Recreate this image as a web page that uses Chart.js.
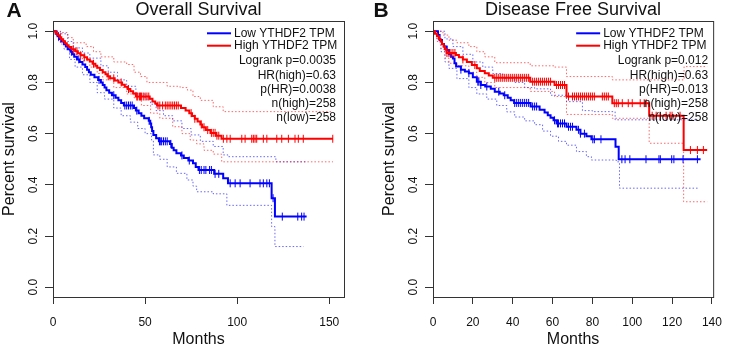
<!DOCTYPE html>
<html>
<head>
<meta charset="utf-8">
<script src="https://cdn.jsdelivr.net/npm/chart.js@4.4.0/dist/chart.umd.min.js"></script>
<style>
html, body { margin: 0; padding: 0; background: #fff; }
#wrap { position: relative; width: 733px; height: 348px; }
#panelA { position: absolute; left: 0; top: 0; }
#panelB { position: absolute; left: 366px; top: 0; }
</style>
</head>
<body>
<div id="wrap">
  <canvas id="panelA" width="366" height="348"></canvas>
  <canvas id="panelB" width="367" height="348"></canvas>
</div>
<script>
Chart.defaults.font.family = "'Liberation Sans', Arial, sans-serif";
Chart.defaults.color = '#111';

// Panel A - Overall Survival (months, survival after each step)
const osHighT = [0, 1.5, 2.5, 3.5, 4.5, 5.5, 6.5, 7.5, 8.5, 10, 12, 13.5, 15, 17, 18.5, 20, 21.5, 23, 24, 25.5, 27, 28.5, 29.5, 31, 33.5, 35.5, 37.5, 39, 40.5, 42, 43.5, 45, 52.5, 54, 55.5, 56.5, 69.5, 72, 74, 75.5, 77, 78.5, 80, 81, 83, 85.5, 88.5, 91.5, 152];
const osHighS = [1, .992, .984, .977, .969, .961, .953, .945, .938, .93, .922, .914, .906, .898, .89, .882, .873, .865, .857, .849, .84, .832, .824, .816, .808, .80, .791, .783, .774, .766, .757, .745, .736, .726, .718, .71, .70, .69, .68, .669, .658, .647, .636, .625, .614, .603, .592, .58, .58];
const osHighCens = [4, 11, 13, 15, 17, 22, 30, 33, 37, 41, 45.5, 46, 47, 47.5, 48, 49, 50, 51, 52, 57, 58, 59.5, 61, 62, 63, 64, 65, 66, 67, 68, 75, 77, 80.5, 82, 84, 86, 87, 88, 89, 90, 92.5, 94.4, 96.2, 102.5, 104.3, 107.9, 108.8, 109.7, 110.6, 114.2, 116.1, 121.5, 124.2, 127.8, 131.4, 133.2, 135.9, 151.9];
const osHighUpT = [0, 4, 8, 11, 18, 22, 26, 33, 40, 44, 47.5, 51, 62, 69, 73, 76, 80, 87, 92.4, 152];
const osHighUpS = [1, .995, .975, .955, .94, .92, .90, .88, .87, .84, .823, .80, .785, .78, .77, .745, .73, .705, .686, .686];
const osHighLoT = [0, 2, 4, 8, 11, 16, 20, 24, 27, 33, 40, 44, 48, 53, 58, 65, 70, 74.5, 78, 82, 87, 91.6, 152];
const osHighLoS = [1, .98, .95, .93, .91, .885, .86, .835, .81, .78, .755, .74, .71, .68, .66, .627, .60, .575, .56, .535, .52, .49, .49];

const osLowT = [0, 1.5, 2.5, 3.5, 4.5, 6, 7, 8, 9.5, 10.5, 11.5, 13, 14.5, 16, 17.5, 18.5, 19.5, 20.5, 22.5, 24.5, 26, 27, 28, 29, 30.5, 32, 34, 35.5, 37, 38.5, 44, 45, 46.5, 48, 49.5, 52, 52.8, 53.3, 53.8, 54.5, 56, 57.5, 63.5, 64.5, 65.5, 67, 69.5, 71, 73.5, 76, 77.5, 79, 87.5, 92.4, 95, 118.7, 120.5, 137.7];
const osLowS = [1, .99, .98, .97, .96, .95, .94, .93, .92, .91, .90, .89, .88, .87, .86, .85, .84, .83, .82, .81, .80, .79, .78, .77, .76, .75, .74, .73, .72, .71, .70, .69, .68, .67, .66, .65, .64, .625, .61, .595, .582, .57, .56, .545, .535, .523, .515, .505, .495, .484, .47, .458, .443, .426, .406, .348, .276, .276];
const osLowCens = [3, 10, 14, 25, 33, 39, 40, 41, 42, 43, 45.5, 52.2, 57.8, 58.5, 59, 60, 61, 62, 64, 70, 74, 79.5, 80.5, 82, 83, 85, 86, 88, 90, 96.2, 98.9, 101.6, 107, 112.4, 114.2, 116.1, 117.5, 119.5, 124.5, 132.9, 135, 136.3];
const osLowUpT = [0, 4, 8, 11, 16, 20, 26, 30, 35, 40, 45, 50, 53, 56, 60, 65, 70, 75, 80, 87, 92.4, 95, 120.5, 121, 137];
const osLowUpS = [1, .99, .96, .935, .915, .895, .865, .84, .81, .785, .755, .735, .715, .69, .67, .65, .62, .595, .57, .55, .517, .51, .51, .49, .49];
const osLowLoT = [0, 3, 6, 9, 12, 16, 20, 24, 28, 33, 37, 42, 46, 50, 53.5, 54.5, 58, 62, 67, 72.7, 76, 78, 87, 94.4, 118.7, 120.5, 136];
const osLowLoS = [1, .96, .93, .89, .86, .83, .80, .76, .735, .70, .67, .645, .62, .60, .575, .517, .50, .47, .445, .419, .395, .373, .365, .32, .237, .159, .159];

// Panel B - Disease Free Survival
const dfsHighT = [0, 1, 2, 3, 3.8, 4.5, 5.3, 6, 6.8, 11.5, 13, 15, 17, 19.5, 22, 23.5, 26, 28, 30, 48.8, 61, 67, 90, 108.5, 125.8, 137.6];
const dfsHighS = [1, .99, .98, .97, .96, .95, .94, .93, .915, .907, .898, .89, .88, .868, .855, .845, .836, .827, .818, .803, .79, .745, .719, .67, .536, .536];
const dfsHighCens = [7, 8, 9, 10, 11, 15, 21, 31, 32, 33, 34, 35, 36, 37, 38, 39, 40, 41, 42, 43, 44, 45, 46, 47, 48, 50, 51, 52, 53, 54, 55, 56, 57, 58, 59, 62, 63, 64, 65, 66, 68, 70, 71, 72, 73, 74, 75, 76, 77, 78, 79, 80, 81, 85, 86, 87, 88, 91, 92, 93, 95, 98, 100, 104, 106, 107, 110, 112, 114, 117, 119, 120, 124, 129.2, 132.7, 135.7];
const dfsHighUpT = [0, 3, 5, 8, 12, 18, 22, 26, 31, 48.8, 61, 67, 90, 108.5, 126, 137.6];
const dfsHighUpS = [1, 1, .985, .965, .955, .94, .92, .90, .877, .865, .86, .823, .81, .81, .862, .862];
const dfsHighLoT = [0, 2, 4, 6, 8, 12, 18, 22, 26, 31, 48.8, 61, 67, 90, 108.5, 125.8, 137.6];
const dfsHighLoS = [1, .96, .93, .895, .875, .865, .84, .82, .80, .78, .765, .745, .675, .66, .5625, .334, .334];

const dfsLowT = [0, 2.5, 3.3, 4.5, 5.5, 6.8, 8, 9, 10, 10.8, 11.6, 14, 16, 18, 20, 22, 24, 26.2, 29, 31, 33.5, 35.5, 37.5, 39, 40.7, 49, 53.5, 56, 57.6, 59, 60.5, 62, 67, 72, 74, 77, 79.5, 91.6, 93.2, 134.3];
const dfsLowS = [1, .985, .966, .95, .94, .927, .91, .90, .894, .875, .862, .85, .843, .836, .82, .803, .79, .784, .775, .764, .757, .75, .74, .73, .72, .706, .693, .683, .672, .662, .652, .64, .627, .615, .60, .59, .578, .549, .50, .50];
const dfsLowCens = [7, 14, 18, 22.5, 23, 24, 27, 33, 36, 41, 42, 43, 44, 45, 46, 47, 48, 50, 51, 52, 61, 62.5, 63, 64, 65, 66, 68, 69, 70, 73, 74, 76, 80.2, 81, 84.3, 94.8, 96.4, 98.8, 106.9, 113.4, 114.1, 119.8, 120.9, 125.5, 132.7];
const dfsLowUpT = [0, 3, 6, 10, 15, 20, 25, 30, 35, 41, 46, 51, 59, 67, 75, 80, 91.4, 133];
const dfsLowUpS = [1, 1, .97, .94, .91, .88, .86, .835, .815, .80, .78, .775, .75, .725, .69, .686, .654, .654];
const dfsLowLoT = [0, 2, 4, 6, 8, 12, 18, 22, 27, 32, 37, 41, 46, 51, 55, 59, 63, 67, 72, 77, 79.5, 92, 93.6, 133];
const dfsLowLoS = [1, .97, .92, .88, .855, .815, .78, .755, .735, .71, .685, .665, .65, .635, .61, .59, .57, .555, .53, .51, .497, .49, .387, .387];

// axes and labels
const yTicks = [0, 0.2, 0.4, 0.6, 0.8, 1.0];
const osXTicks = [0, 50, 100, 150];
const dfsXTicks = [0, 20, 40, 60, 80, 100, 120, 140];
const legendLabels = ['Low YTHDF2 TPM', 'High YTHDF2 TPM'];
const osStats = ['Logrank p=0.0035', 'HR(high)=0.63', 'p(HR)=0.0038', 'n(high)=258', 'n(low)=258'];
const dfsStats = ['Logrank p=0.012', 'HR(high)=0.63', 'p(HR)=0.013', 'n(high)=258', 'n(low)=258'];

const RED = '#ff0000';
const BLUE = '#0000ff';
const RED_CI = 'rgba(255,0,0,0.6)';
const BLUE_CI = 'rgba(0,0,255,0.6)';

function pts(t, s) {
    return t.map((x, i) => ({x: x, y: s[i]}));
}

// value of the step curve at month m
function survAt(t, s, m) {
    let v = s[0];
    for (let i = 0; i < t.length; i++) {
        if (t[i] <= m) v = s[i];
    }
    return v;
}

function curve(t, s, color) {
    return {data: pts(t, s), borderColor: color, borderWidth: 2, stepped: 'before', pointRadius: 0, fill: false};
}

function band(t, s, color) {
    return {data: pts(t, s), borderColor: color, borderWidth: 1, borderDash: [1.5, 2], stepped: 'before', pointRadius: 0, fill: false};
}

function censors(c, t, s, color) {
    return {
        data: c.map(m => ({x: m, y: survAt(t, s, m)})),
        showLine: false,
        pointStyle: 'line',
        pointRotation: 90,
        pointRadius: 4,
        pointBorderWidth: 1,
        pointBorderColor: color,
        borderColor: color
    };
}

// box, panel letter, title, legend and stats
const panelText = {
    id: 'panelText',
    afterDraw(chart, args, o) {
        const {ctx, chartArea: a} = chart;
        ctx.save();
        ctx.strokeStyle = '#333';
        ctx.lineWidth = 1;
        ctx.strokeRect(a.left + 0.5, a.top + 0.5, a.right - a.left, a.bottom - a.top);

        ctx.fillStyle = '#111';
        ctx.textAlign = 'center';
        ctx.textBaseline = 'middle';
        ctx.font = "bold 21px 'Liberation Sans', Arial, sans-serif";
        ctx.fillText(o.letter, o.letterX, 11);
        ctx.font = "18px 'Liberation Sans', Arial, sans-serif";
        ctx.fillText(o.title, (a.left + a.right) / 2, 10);

        const rowY = [12.3, 24.7, 40, 54.3, 68.3, 82.3, 96.7];
        const colors = [BLUE, RED];
        ctx.font = "12px 'Liberation Sans', Arial, sans-serif";
        ctx.textAlign = 'left';
        ctx.lineWidth = 2;
        legendLabels.forEach((lab, i) => {
            ctx.strokeStyle = colors[i];
            ctx.beginPath();
            ctx.moveTo(a.right - 137, a.top + rowY[i]);
            ctx.lineTo(a.right - 113, a.top + rowY[i]);
            ctx.stroke();
            ctx.fillText(lab, a.right - 110, a.top + rowY[i]);
        });
        ctx.textAlign = 'right';
        o.stats.forEach((s, i) => {
            ctx.fillText(s, a.right - o.statsRight, a.top + rowY[i + 2]);
        });
        ctx.restore();
    }
};

function makePanel(id, p) {
    return new Chart(document.getElementById(id), {
        type: 'line',
        data: {
            datasets: [
                censors(p.highC, p.highT, p.highS, RED),
                curve(p.highT, p.highS, RED),
                censors(p.lowC, p.lowT, p.lowS, BLUE),
                curve(p.lowT, p.lowS, BLUE),
                band(p.highUpT, p.highUpS, RED_CI),
                band(p.highLoT, p.highLoS, RED_CI),
                band(p.lowUpT, p.lowUpS, BLUE_CI),
                band(p.lowLoT, p.lowLoS, BLUE_CI)
            ]
        },
        options: {
            responsive: false,
            animation: false,
            events: [],
            layout: {padding: {left: p.padLeft, right: p.padRight, top: 21, bottom: 0}},
            plugins: {
                legend: {display: false},
                tooltip: {enabled: false},
                panelText: {letter: p.letter, letterX: p.letterX, title: p.title, stats: p.stats, statsRight: p.statsRight}
            },
            scales: {
                x: {
                    type: 'linear',
                    min: 0,
                    max: p.xMax,
                    afterBuildTicks: s => { s.ticks = p.xTicks.map(v => ({value: v})); },
                    afterFit: s => { s.height = 51; },
                    border: {display: false},
                    grid: {drawOnChartArea: false, drawTicks: true, tickLength: 7, color: '#333'},
                    ticks: {font: {size: 12}, padding: 11, maxRotation: 0, autoSkip: false, color: '#111'},
                    title: {display: true, text: 'Months', font: {size: 16}, padding: {top: 0, bottom: -1.5}, color: '#111'}
                },
                y: {
                    type: 'linear',
                    min: -0.038,
                    max: 1.04,
                    afterBuildTicks: s => { s.ticks = yTicks.map(v => ({value: v})); },
                    afterFit: s => { s.width = 53; },
                    border: {display: false},
                    grid: {drawOnChartArea: false, drawTicks: true, tickLength: 8, color: '#333'},
                    ticks: {
                        font: {size: 12}, padding: 3, minRotation: 90, maxRotation: 90,
                        crossAlign: 'center', color: '#111',
                        callback: v => Number(v).toFixed(1)
                    },
                    title: {display: true, text: 'Percent survival', font: {size: 16}, padding: {top: 0, bottom: 0}, color: '#111'}
                }
            }
        },
        plugins: [panelText]
    });
}

makePanel('panelA', {
    letter: 'A', letterX: 14, title: 'Overall Survival', stats: osStats, statsRight: 8,
    padLeft: 0, padRight: 22, xMax: 158, xTicks: osXTicks,
    highT: osHighT, highS: osHighS, highC: osHighCens,
    lowT: osLowT, lowS: osLowS, lowC: osLowCens,
    highUpT: osHighUpT, highUpS: osHighUpS, highLoT: osHighLoT, highLoS: osHighLoS,
    lowUpT: osLowUpT, lowUpS: osLowUpS, lowLoT: osLowLoT, lowLoS: osLowLoS
});

makePanel('panelB', {
    letter: 'B', letterX: 15, title: 'Disease Free Survival', stats: dfsStats, statsRight: 5,
    padLeft: 14, padRight: 10, xMax: 140.6, xTicks: dfsXTicks,
    highT: dfsHighT, highS: dfsHighS, highC: dfsHighCens,
    lowT: dfsLowT, lowS: dfsLowS, lowC: dfsLowCens,
    highUpT: dfsHighUpT, highUpS: dfsHighUpS, highLoT: dfsHighLoT, highLoS: dfsHighLoS,
    lowUpT: dfsLowUpT, lowUpS: dfsLowUpS, lowLoT: dfsLowLoT, lowLoS: dfsLowLoS
});
</script>
</body>
</html>
